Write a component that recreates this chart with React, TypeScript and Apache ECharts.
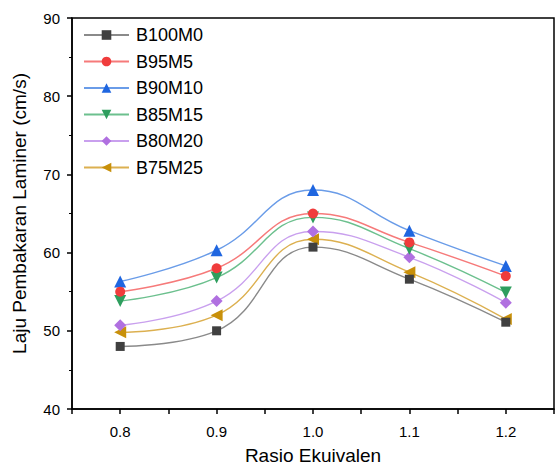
import React, { useEffect, useRef } from "react";
import * as echarts from "echarts";

const xValues = [0.8, 0.9, 1.0, 1.1, 1.2];
const seriesNames = ["B100M0", "B95M5", "B90M10", "B85M15", "B80M20", "B75M25"];
const b100m0 = [48.0, 50.0, 60.7, 56.6, 51.1];
const b95m5 = [55.0, 58.0, 65.0, 61.3, 57.0];
const b90m10 = [56.3, 60.3, 68.0, 62.8, 58.3];
const b85m15 = [53.8, 56.8, 64.5, 60.5, 54.9];
const b80m20 = [50.7, 53.8, 62.7, 59.4, 53.6];
const b75m25 = [49.8, 52.0, 61.7, 57.5, 51.5];

const allValues = [b100m0, b95m5, b90m10, b85m15, b80m20, b75m25];
const markerColors = ["#404040", "#f03c3c", "#1f66e0", "#2e9e5e", "#b070e0", "#c8900a"];
const lineColors = ["#8a8a8a", "#f67a7a", "#6a9ce8", "#6cc08e", "#c9a0ee", "#dcb050"];
const symbols = ["rect", "circle", "triangle", "triangle", "diamond", "triangle"];
const rotations = [0, 0, 0, 180, 0, 90];
const symbolSizes = [9, 10, 12, 12, 12, 12];

const FONT = "Liberation Sans, Arial, sans-serif";

export default function App() {
  const ref = useRef<HTMLDivElement>(null);
  useEffect(() => {
    if (!ref.current) return;
    const chart = echarts.init(ref.current, null, { renderer: "svg" });
    chart.setOption({
      animation: false,
      grid: {
        left: 72,
        right: 1,
        top: 18,
        bottom: 59,
        show: true,
        borderColor: "#000",
        borderWidth: 1.5,
        backgroundColor: "transparent",
      },
      legend: {
        orient: "vertical",
        left: 78,
        top: 21,
        itemWidth: 45,
        itemHeight: 12,
        itemGap: 8.5,
        textStyle: { fontSize: 18, color: "#000", fontFamily: FONT, padding: [0, 0, 0, 2] },
        data: seriesNames,
      },
      xAxis: {
        type: "value",
        min: 0.75,
        max: 1.25,
        interval: 0.05,
        name: "Rasio Ekuivalen",
        nameLocation: "middle",
        nameGap: 37,
        nameTextStyle: { fontSize: 19, color: "#000", fontFamily: FONT },
        axisLine: { show: true, onZero: false, lineStyle: { color: "#000", width: 1.5 } },
        axisTick: { show: true, length: 5, lineStyle: { color: "#000", width: 1.5 } },
        axisLabel: {
          fontSize: 15,
          color: "#000",
          fontFamily: FONT,
          margin: 15,
          formatter: (v: number) => {
            const r = Math.round(v * 100);
            if (r % 10 !== 0 || r < 80 || r > 120) return "";
            return (r / 100).toFixed(1);
          },
        },
        splitLine: { show: false },
      },
      yAxis: {
        type: "value",
        min: 40,
        max: 90,
        interval: 10,
        name: "Laju Pembakaran Laminer (cm/s)",
        nameLocation: "middle",
        nameGap: 43,
        nameTextStyle: { fontSize: 19, color: "#000", fontFamily: FONT },
        axisLine: { show: true, onZero: false, lineStyle: { color: "#000", width: 1.5 } },
        axisTick: { show: true, length: 5, lineStyle: { color: "#000", width: 1.5 } },
        minorTick: { show: true, splitNumber: 2, length: 3, lineStyle: { color: "#000", width: 1 } },
        axisLabel: { fontSize: 15, color: "#000", fontFamily: FONT, margin: 12 },
        splitLine: { show: false },
      },
      series: seriesNames.map((name, i) => ({
        name,
        type: "line",
        smooth: 0.45,
        data: xValues.map((x, j) => [x, allValues[i][j]]),
        symbol: symbols[i],
        symbolRotate: rotations[i],
        symbolSize: symbolSizes[i],
        showSymbol: true,
        itemStyle: { color: markerColors[i], borderWidth: 0 },
        lineStyle: { color: lineColors[i], width: 1.4 },
        z: 10 - i,
      })),
    });
    return () => chart.dispose();
  }, []);
  return (
    <div
      ref={ref}
      style={{ width: 557, height: 470, position: "absolute", left: 0, top: 0, background: "#fff" }}
    />
  );
}
